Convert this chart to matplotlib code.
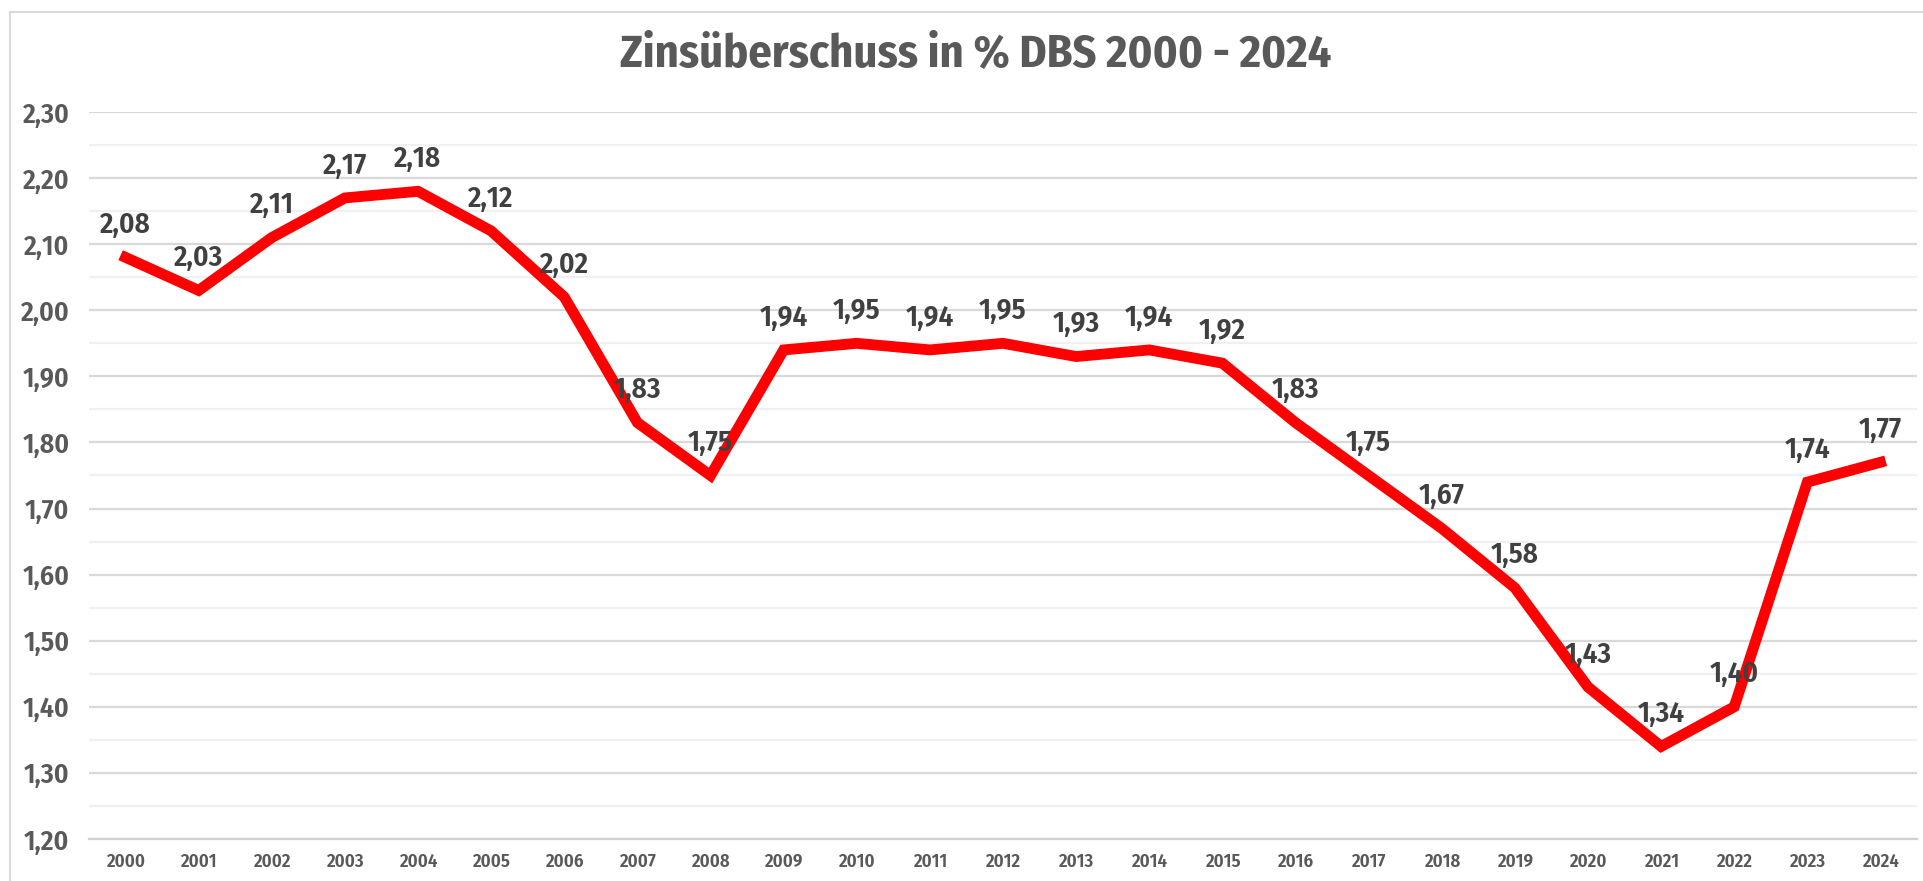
import matplotlib
matplotlib.use("Agg")
import matplotlib.pyplot as plt
from matplotlib.ticker import MultipleLocator, FuncFormatter
from matplotlib.patches import Rectangle
from matplotlib import font_manager

years = [str(y) for y in range(2000, 2025)]
values = [2.08, 2.03, 2.11, 2.17, 2.18, 2.12, 2.02, 1.83, 1.75, 1.94, 1.95, 1.94,
          1.95, 1.93, 1.94, 1.92, 1.83, 1.75, 1.67, 1.58, 1.43, 1.34, 1.40, 1.74, 1.77]
title = "Zinsüberschuss in % DBS 2000 - 2024"

names = {f.name for f in font_manager.fontManager.ttflist}
FAM = ['DejaVu Sans']
for cand in ['Fira Sans Condensed', 'Carlito', 'Liberation Sans Narrow']:
    if cand in names:
        FAM = [cand]
        break
plt.rcParams['font.family'] = FAM + ['DejaVu Sans']

W, H = 1924, 881
fig = plt.figure(figsize=(W / 100, H / 100), dpi=100)
fig.patch.set_facecolor('white')

# outer chart frame (top & left visible)
fig.patches.append(Rectangle((10 / W, -0.1), 1.2, 1 - 12 / H + 0.1, transform=fig.transFigure,
                             fill=False, edgecolor='#d9d9d9', linewidth=1.5, zorder=0))

left, right = 89 / W, 1917 / W
bottom, top = 1 - 839 / H, 1 - 112 / H
ax = fig.add_axes([left, bottom, right - left, top - bottom])

x = list(range(len(years)))
ax.plot(x, values, color='#ff0000', linewidth=7.8, solid_joinstyle='miter', zorder=3)

for xi, v in zip(x, values):
    ax.annotate(f"{v:.2f}".replace('.', ','), (xi, v), xytext=(0, 23.5), textcoords='offset points',
                ha='center', va='center', fontsize=21, fontweight=600, color='#404040', zorder=4)

ax.set_xlim(-0.5, len(years) - 0.5)
ax.set_ylim(1.20, 2.30)
ax.yaxis.set_major_locator(MultipleLocator(0.1))
ax.yaxis.set_minor_locator(MultipleLocator(0.05))
ax.yaxis.set_major_formatter(FuncFormatter(lambda v, p: f"{v:.2f}".replace('.', ',')))
ax.set_xticks(x)
ax.set_xticklabels(years)

ax.grid(axis='y', which='major', color='#d9d9d9', linewidth=1.6, zorder=1)
ax.grid(axis='y', which='minor', color='#f0f0f0', linewidth=1.6, zorder=1)
ax.set_axisbelow(True)
for s in ['top', 'right', 'left']:
    ax.spines[s].set_visible(False)
ax.spines['bottom'].set_color('#d0d0d0')
ax.spines['bottom'].set_linewidth(1.6)

ax.tick_params(axis='y', which='both', length=0, pad=14, labelsize=20, labelcolor='#595959')
ax.tick_params(axis='x', length=0, pad=10, labelsize=13.5, labelcolor='#595959')
for lab in ax.get_yticklabels() + ax.get_xticklabels():
    lab.set_fontweight(600)

fig.text(976 / W, 1 - 55 / H, title, ha='center', va='center', fontsize=33.3,
         fontweight='bold', color='#595959')

fig.savefig('out.png', dpi=100, facecolor='white')
